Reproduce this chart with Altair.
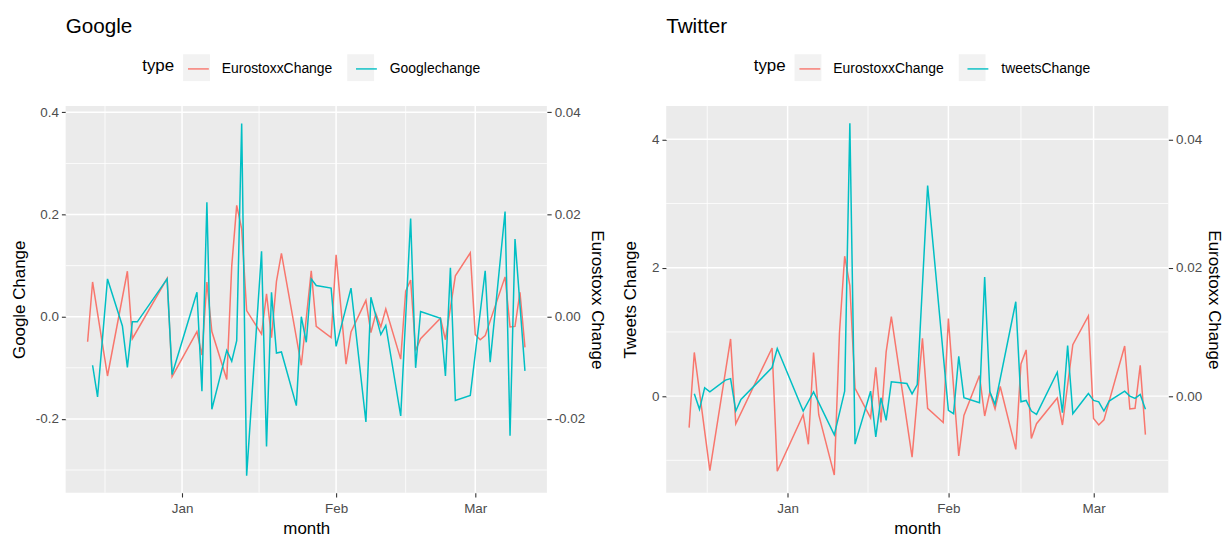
import altair as alt
import pandas as pd

# ---------------- data ----------------
EURO_DATES = [
    "2018-12-13", "2018-12-14", "2018-12-17", "2018-12-21", "2018-12-22",
    "2018-12-29", "2018-12-30", "2019-01-04", "2019-01-05", "2019-01-06",
    "2019-01-07", "2019-01-10", "2019-01-11", "2019-01-12", "2019-01-13",
    "2019-01-14", "2019-01-17", "2019-01-18", "2019-01-19", "2019-01-20",
    "2019-01-21", "2019-01-25", "2019-01-27", "2019-01-28", "2019-01-31",
    "2019-02-01", "2019-02-03", "2019-02-04", "2019-02-07", "2019-02-08",
    "2019-02-09", "2019-02-10", "2019-02-11", "2019-02-14", "2019-02-15",
    "2019-02-16", "2019-02-17", "2019-02-18", "2019-02-22", "2019-02-23",
    "2019-02-25", "2019-02-28", "2019-03-01", "2019-03-02", "2019-03-03",
    "2019-03-07", "2019-03-08", "2019-03-09", "2019-03-10", "2019-03-11",
]
EURO_VALUES = [
    -0.0049, 0.0068, -0.0116, 0.0089, -0.0043,
    0.0075, -0.0117, -0.0029, -0.0075, 0.0068,
    -0.0029, -0.0123, 0.0099, 0.0218, 0.0172,
    0.0012, -0.0034, 0.0045, -0.0041, 0.0069,
    0.0124, -0.0095, 0.0090, -0.0019, -0.0041,
    0.0121, -0.0093, -0.0030, 0.0032, -0.0031,
    0.0006, -0.0020, 0.0015, -0.0083, 0.0050,
    0.0072, -0.0066, -0.0043, -0.0003, -0.0045,
    0.0080, 0.0125, -0.0035, -0.0045, -0.0037,
    0.0078, -0.0020, -0.0019, 0.0048, -0.0060,
]

GOOGLE_DATES = [
    "2018-12-14", "2018-12-15", "2018-12-17", "2018-12-20", "2018-12-21",
    "2018-12-22", "2018-12-23", "2018-12-29", "2018-12-30", "2019-01-04",
    "2019-01-05", "2019-01-06", "2019-01-07", "2019-01-10", "2019-01-11",
    "2019-01-12", "2019-01-13", "2019-01-14", "2019-01-17", "2019-01-18",
    "2019-01-19", "2019-01-20", "2019-01-21", "2019-01-24", "2019-01-25",
    "2019-01-26", "2019-01-27", "2019-01-28", "2019-01-31", "2019-02-01",
    "2019-02-04", "2019-02-07", "2019-02-08", "2019-02-10", "2019-02-11",
    "2019-02-14", "2019-02-16", "2019-02-17", "2019-02-18", "2019-02-22",
    "2019-02-23", "2019-02-24", "2019-02-25", "2019-02-28", "2019-03-03",
    "2019-03-04", "2019-03-07", "2019-03-08", "2019-03-09", "2019-03-11",
]
GOOGLE_VALUES = [
    -0.095, -0.157, 0.074, -0.018, -0.099,
    -0.010, -0.010, 0.074, -0.113, 0.048,
    -0.146, 0.224, -0.181, -0.066, -0.087,
    -0.047, 0.378, -0.311, 0.128, -0.254,
    0.048, -0.071, -0.069, -0.174, 0.000,
    -0.050, 0.074, 0.061, 0.056, -0.058,
    0.056, -0.206, 0.038, -0.035, -0.017,
    -0.194, 0.192, -0.100, 0.010, -0.003,
    -0.116, 0.096, -0.164, -0.154, 0.090,
    -0.089, 0.206, -0.233, 0.152, -0.106,
]

TWEETS_DATES = [
    "2018-12-14", "2018-12-15", "2018-12-16", "2018-12-17", "2018-12-20",
    "2018-12-21", "2018-12-22", "2018-12-23", "2018-12-29", "2018-12-30",
    "2019-01-04", "2019-01-06", "2019-01-10", "2019-01-12", "2019-01-13",
    "2019-01-14", "2019-01-17", "2019-01-18", "2019-01-19", "2019-01-20",
    "2019-01-21", "2019-01-24", "2019-01-25", "2019-01-26", "2019-01-28",
    "2019-02-01", "2019-02-02", "2019-02-03", "2019-02-04", "2019-02-07",
    "2019-02-08", "2019-02-09", "2019-02-10", "2019-02-14", "2019-02-15",
    "2019-02-16", "2019-02-17", "2019-02-18", "2019-02-22", "2019-02-23",
    "2019-02-24", "2019-02-25", "2019-02-28", "2019-03-01", "2019-03-02",
    "2019-03-03", "2019-03-04", "2019-03-07", "2019-03-08", "2019-03-09",
    "2019-03-10", "2019-03-11",
]
TWEETS_VALUES = [
    0.036, -0.206, 0.130, 0.067, 0.250,
    0.273, -0.232, -0.052, 0.445, 0.742,
    -0.232, 0.067, -0.604, 0.077, 4.250,
    -0.748, 0.077, -0.635, -0.026, -0.377,
    0.222, 0.196, 0.036, 0.180, 3.280,
    -0.222, -0.273, 0.619, -0.026, -0.103,
    1.857, 0.067, -0.129, 1.470, -0.088,
    -0.067, -0.232, -0.284, 0.372, -0.258,
    0.789, -0.273, 0.041, -0.067, -0.088,
    -0.232, -0.077, 0.077, 0.000, -0.036,
    0.026, -0.206,
]

SERIES_COLORS = ["#F8766D", "#00BFC4"]
KEY_BG = ["#F2F2F2", "#F2F2F2"]
X_MAJOR = ["2019-01-01", "2019-02-01", "2019-03-01"]
X_MINOR = ["2018-12-16T12:00:00", "2019-01-16T12:00:00", "2019-02-15"]
X_RANGE = ["2018-12-08T14:00:00", "2019-03-15T10:00:00"]

GOOGLE_DOMAIN = [-0.3445, 0.4125]
GOOGLE_MAJOR = [-0.2, 0.0, 0.2, 0.4]
GOOGLE_MINOR = [-0.3, -0.1, 0.1, 0.3]
GOOGLE_FACTOR = 10

TWEETS_DOMAIN = [-1.505, 4.52]
TWEETS_MAJOR = [0, 2, 4]
TWEETS_MINOR = [-1, 1, 3]
TWEETS_FACTOR = 100

FONT = "Liberation Sans"
HYPHEN = "replace(datum.label, '\u2212', '-')"
ZWSP = "\u200b"

# legend geometry (px)
LEG_TITLE_W = 32.1      # width of "type" at 17px
LEG_TITLE_PAD = 12
LEG_LINE = 21           # key line length
LEG_BOX = 27            # grey key box
LEG_LABEL_OFF = 12
LEG_COL_PAD = 20
LEG_LABEL1_W = 112.1    # width of "EurostoxxChange" at 14px


def local(d):
    return d if "T" in d else d + "T00:00:00"


def to_dt(s):
    ts = pd.Timestamp(s)
    return alt.DateTime(year=ts.year, month=ts.month, date=ts.day,
                        hours=ts.hour, minutes=ts.minute)


def y_axis(orient, values, fmt, title, tp):
    return alt.Axis(orient=orient, values=values, format=fmt, labelExpr=HYPHEN,
                    title=title, grid=False, domain=False,
                    tickColor="#333333", tickSize=4.3, tickWidth=1.1,
                    labelColor="#4D4D4D", labelFontSize=13.5, labelPadding=3,
                    titleFontSize=17, titleFontWeight="normal",
                    titleColor="black", titlePadding=tp)


def panel(title, other_name, other_dates, other_values, domain, factor,
          major, minor, fmt, sec_fmt, left_title, width, legend_x, left_tp):
    names = ["EurostoxxChange", other_name]
    euro = pd.DataFrame({"month": [local(d) for d in EURO_DATES],
                         "value": EURO_VALUES, "type": names[0]})
    other = pd.DataFrame({"month": [local(d) for d in other_dates],
                          "value": other_values, "type": names[1]})
    key_names = [n + ZWSP for n in names]
    keys = pd.DataFrame({"key": key_names})
    xmaj = pd.DataFrame({"month": [local(d) for d in X_MAJOR]})
    xmin = pd.DataFrame({"month": [local(d) for d in X_MINOR]})
    ymaj = pd.DataFrame({"v": major})
    ymin = pd.DataFrame({"v": minor})

    x_enc = alt.X(
        "month:T",
        scale=alt.Scale(domain=[to_dt(X_RANGE[0]), to_dt(X_RANGE[1])]),
        axis=alt.Axis(values=[to_dt(local(d)) for d in X_MAJOR], format="%b",
                      title="month", grid=False, domain=False,
                      tickColor="#333333", tickSize=4.3, tickWidth=1.1,
                      labelColor="#4D4D4D", labelFontSize=13.5, labelPadding=5,
                      titleFontSize=17, titleFontWeight="normal",
                      titleColor="black", titlePadding=5),
    )
    yscale = alt.Scale(domain=domain, nice=False, zero=False)
    sec_domain = [domain[0] / factor, domain[1] / factor]
    sec_major = [m / factor for m in major]

    stroke = alt.Stroke(
        "type:N",
        scale=alt.Scale(domain=names, range=SERIES_COLORS),
        legend=alt.Legend(
            orient="none", legendX=legend_x, legendY=-49, direction="horizontal",
            title="type", titleOrient="left", titleFontSize=17,
            titleFontWeight="normal", titleColor="black",
            titlePadding=LEG_TITLE_PAD, titleBaseline="middle",
            titleAnchor="middle", labelFontSize=14, labelColor="black",
            labelOffset=LEG_LABEL_OFF, columnPadding=LEG_COL_PAD,
            symbolType="stroke", symbolSize=LEG_LINE ** 2, symbolStrokeWidth=1.4),
    )
    # grey legend-key backgrounds (ggplot style), drawn as a second legend
    first_line = LEG_TITLE_W + LEG_TITLE_PAD
    box_x = first_line + (LEG_LINE - LEG_BOX) / 2
    second_line = first_line + LEG_LINE + LEG_LABEL_OFF + LEG_LABEL1_W + LEG_COL_PAD
    box_gap = second_line + (LEG_LINE - LEG_BOX) / 2 - box_x - LEG_BOX
    key_bg = alt.Chart(keys).mark_square().encode(
        color=alt.Color(
            "key:N", scale=alt.Scale(domain=key_names, range=KEY_BG),
            legend=alt.Legend(
                orient="none", legendX=legend_x + box_x, legendY=-52,
                direction="horizontal", title=None, labelExpr="''",
                labelOffset=0, columnPadding=box_gap,
                symbolType="square", symbolSize=LEG_BOX ** 2,
                symbolStrokeWidth=0, symbolOpacity=1),
        )
    ).transform_filter("false")

    gx_min = alt.Chart(xmin).mark_rule(color="white", strokeWidth=0.8).encode(x=x_enc)
    gx_maj = alt.Chart(xmaj).mark_rule(color="white", strokeWidth=1.5).encode(x=x_enc)
    gy_min = alt.Chart(ymin).mark_rule(color="white", strokeWidth=0.8).encode(
        y=alt.Y("v:Q", scale=yscale, axis=None))
    gy_maj = alt.Chart(ymaj).mark_rule(color="white", strokeWidth=1.5).encode(
        y=alt.Y("v:Q", scale=yscale, axis=None))

    red = alt.Chart(euro).mark_line(strokeWidth=1.5).encode(
        x=x_enc,
        y=alt.Y("value:Q",
                scale=alt.Scale(domain=sec_domain, nice=False, zero=False),
                axis=y_axis("right", sec_major, sec_fmt, "Eurostoxx Change", 3)),
        stroke=stroke,
    )
    cyan = alt.Chart(other).mark_line(strokeWidth=1.5).encode(
        x=x_enc,
        y=alt.Y("value:Q", scale=yscale,
                axis=y_axis("left", major, fmt, left_title, left_tp)),
        stroke=stroke,
    )
    return alt.layer(key_bg, gx_min, gx_maj, gy_min, gy_maj, red, cyan).resolve_scale(
        y="independent"
    ).properties(
        width=width, height=389,
        title=alt.TitleParams(title, anchor="start", frame="group", fontSize=20.8,
                              fontWeight="normal", color="black", offset=17),
    )


left = panel("Google", "Googlechange", GOOGLE_DATES, GOOGLE_VALUES, GOOGLE_DOMAIN,
             GOOGLE_FACTOR, GOOGLE_MAJOR, GOOGLE_MINOR, ".1f", ".2f",
             "Google Change", 484, 77, 7)
right = panel("Twitter", "tweetsChange", TWEETS_DATES, TWEETS_VALUES, TWEETS_DOMAIN,
              TWEETS_FACTOR, TWEETS_MAJOR, TWEETS_MINOR, "d", ".2f",
              "Tweets Change", 505, 88, 12)

chart = alt.hconcat(left, right, spacing=15).resolve_scale(
    color="independent", stroke="independent"
).properties(
    padding={"left": 2, "top": 6, "right": 0, "bottom": 0}
).configure(
    font=FONT,
).configure_view(
    fill="#EBEBEB", stroke=None,
)

chart.save("out.html", embed_options={"renderer": "svg", "actions": False})
